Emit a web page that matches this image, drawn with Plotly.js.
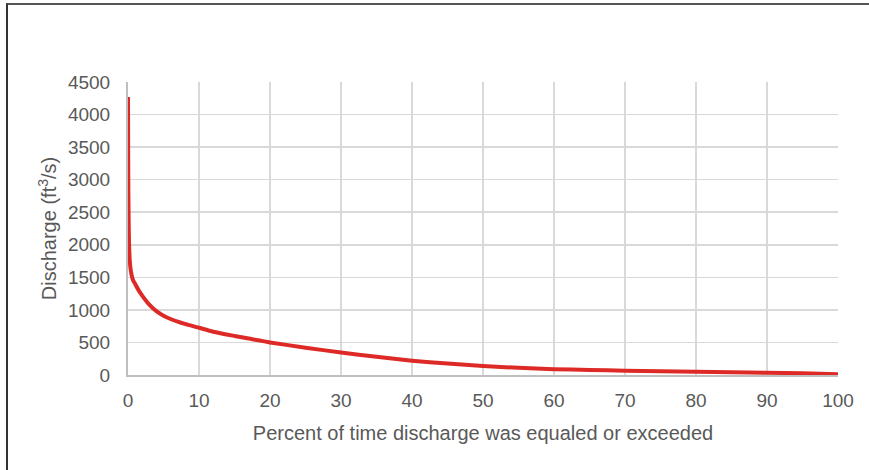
<!DOCTYPE html>
<html>
<head>
<meta charset="utf-8">
<script src="https://cdn.plot.ly/plotly-3.0.1.min.js"></script>
<style>
html,body{margin:0;padding:0;background:#fff;}
#wrap{position:relative;width:869px;height:470px;}
#chart{position:absolute;left:0;top:0;width:869px;height:470px;}
#frame{position:absolute;left:6px;top:3px;width:870px;height:480px;border-top:2px solid #555;border-left:2px solid #333;pointer-events:none;}
</style>
</head>
<body>
<div id="wrap"><div id="chart"></div><div id="frame"></div></div>
<script>
// Percent of time discharge was equaled or exceeded
const percentExceeded = [0, 0.02, 0.05, 0.1, 0.15, 0.25, 0.4, 0.7, 1, 1.5, 2, 3, 4, 5, 6, 7, 8, 10, 12, 15, 17, 20, 25, 30, 35, 40, 45, 50, 55, 60, 65, 70, 75, 80, 85, 90, 95, 100];
// Discharge (ft3/s)
const discharge = [4270, 3500, 2800, 2300, 2000, 1750, 1600, 1460, 1400, 1300, 1220, 1080, 980, 910, 860, 820, 785, 725, 665, 600, 560, 500, 420, 345, 280, 220, 175, 140, 110, 90, 78, 66, 58, 50, 43, 35, 27, 10];

const xTicks = [0, 10, 20, 30, 40, 50, 60, 70, 80, 90, 100];
const yTicks = [0, 500, 1000, 1500, 2000, 2500, 3000, 3500, 4000, 4500];

const tickFont = {family: 'Liberation Sans, Arial, sans-serif', size: 19, color: '#595959'};
const titleFont = {family: 'Liberation Sans, Arial, sans-serif', size: 20, color: '#595959'};

Plotly.newPlot('chart', [{
  x: percentExceeded,
  y: discharge,
  type: 'scatter',
  mode: 'lines',
  line: {color: 'rgb(222,42,38)', width: 4, shape: 'spline', smoothing: 0.6},
  hoverinfo: 'skip'
}], {
  width: 869, height: 470,
  margin: {l: 128, r: 31, t: 82, b: 95, pad: 0},
  paper_bgcolor: '#fff', plot_bgcolor: '#fff',
  showlegend: false,
  font: tickFont,
  xaxis: {
    range: [0, 100], tickvals: xTicks, ticktext: xTicks.map(String),
    showgrid: true, gridcolor: '#d9d9d9', gridwidth: 1.5,
    showline: true, linecolor: '#bfbfbf', linewidth: 2,
    zeroline: false, ticks: '', tickfont: tickFont, ticklabelstandoff: 7,
    title: {text: 'Percent of time discharge was equaled or exceeded', font: titleFont, standoff: 16}
  },
  yaxis: {
    range: [0, 4500], tickvals: yTicks, ticktext: yTicks.map(String),
    showgrid: true, gridcolor: '#d9d9d9', gridwidth: 1.5,
    showline: true, linecolor: '#bfbfbf', linewidth: 2,
    zeroline: false, ticks: '', tickfont: tickFont, ticklabelstandoff: 12,
    title: {text: 'Discharge (ft<sup>3</sup>/s)', font: titleFont, standoff: 6}
  }
}, {staticPlot: true});
</script>
</body>
</html>
